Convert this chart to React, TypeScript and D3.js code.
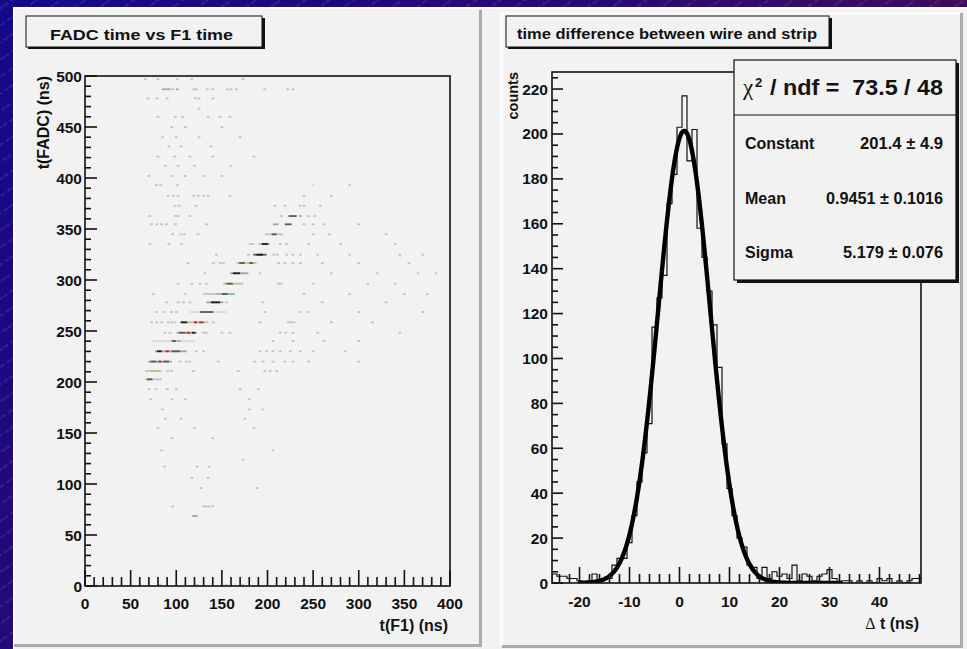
import React from 'react';
import * as d3 from 'd3';

const W = 967;
const H = 649;

// ---------- Right panel: histogram of time difference (bin width 1 ns, first bin centre -25) ----------
const histFirstCenter = -25;
const histCounts: number[] = [
  4, 3, 3, 2, 2, 1, 0, 1, 4, 1, 2, 2, 8, 11, 11, 18, 30, 45, 58, 71,
  114, 127, 137, 169, 182, 203, 217, 188, 202, 158, 145, 130, 115, 96, 62, 42, 30, 20, 16, 8,
  7, 2, 7, 2, 5, 3, 4, 2, 8, 1, 4, 3, 1, 3, 4, 6, 2, 0, 1, 1,
  0, 1, 0, 1, 0, 2, 1, 2, 0, 1, 0, 1, 2, 2,
];
const fitConstant = 201.4;
const fitMean = 0.9451;
const fitSigma = 5.179;
const fitRange: [number, number] = [-20.3, 32.5];
const statsLabels = ['Constant', 'Mean', 'Sigma'];
const statsValues = ['201.4 \u00b1 4.9', '0.9451 \u00b1 0.1016', '5.179 \u00b1 0.076'];
const statsValueWidths = [83, 117, 100];
const rightXTickLabels = [-20, -10, 0, 10, 20, 30, 40];
const rightYTickLabels = [0, 20, 40, 60, 80, 100, 120, 140, 160, 180, 200, 220];

// ---------- Left panel: 2D histogram FADC vs F1 ----------
const leftXTickLabels = [0, 50, 100, 150, 200, 250, 300, 350, 400];
const leftYTickLabels = [0, 50, 100, 150, 200, 250, 300, 350, 400, 450, 500];

// dense runs: [t(FADC), t(F1) start, t(F1) end, level]
const denseRuns: [number, number, number, number][] = [
  [362.7, 213.7, 217, 1], [362.7, 223, 232, 3],
  [354.6, 206, 212, 2], [354.6, 219, 226.5, 3],
  [344.8, 197, 217, 1], [344.8, 204.6, 210, 3],
  [335.3, 190, 202.7, 1], [335.3, 193.6, 200.9, 4],
  [324.8, 184.5, 199, 3], [324.8, 188, 195, 4],
  [316.7, 166, 188, 5], [316.7, 169, 175, 3], [316.7, 180, 184, 3],
  [306.6, 159, 179, 2], [306.6, 162, 170, 4],
  [296.4, 151.6, 173.5, 5], [296.4, 155, 162, 3],
  [286.3, 129.7, 164.4, 1], [286.3, 144, 164, 6], [286.3, 150, 156, 3],
  [278.1, 133, 151.6, 2], [278.1, 138, 148, 4],
  [268.6, 115, 155, 0], [268.6, 126, 140.6, 3],
  [258.5, 104, 135, 5], [258.5, 105, 112, 4], [258.5, 125, 130, 3], [258.5, 119.5, 123, 7],
  [248.3, 100.4, 122.4, 2], [248.3, 103, 110, 3], [248.3, 117, 121, 4], [248.3, 111.5, 115, 7],
  [240.2, 73, 120.5, 0], [240.2, 95, 100, 3], [240.2, 101, 105, 6],
  [230.1, 76.7, 111.4, 2], [230.1, 79, 84, 4], [230.1, 95, 104, 3], [230.1, 88.5, 92, 7],
  [220, 69.4, 95, 2], [220, 72, 78, 3], [220, 86, 92, 3], [220, 80.5, 84, 7],
  [210.8, 65.8, 84, 1], [210.8, 72, 82, 5],
  [202.6, 65.8, 84, 1], [202.6, 68, 74, 3],
];

// sparse cells: [t(F1), t(FADC), level]
const sparseCells: [number, number, number][] = [
  [66, 497, 1], [80, 497, 1], [101, 497, 1], [117, 497, 1], [173, 497, 1],
  [86, 487, 2], [89, 487, 2], [92, 487, 2], [96, 487, 1], [101, 487, 2], [119, 487, 1], [122, 487, 1],
  [134, 487, 1], [140, 487, 1], [156, 487, 1], [160, 487, 1], [166, 487, 1], [197, 487, 1], [222, 487, 1], [228, 487, 1],
  [69, 478, 1], [79, 478, 1], [90, 478, 1], [121, 478, 1], [125, 478, 1], [140, 478, 1],
  [125, 468, 1],
  [80, 460, 1], [99, 460, 1], [107, 460, 1], [135, 460, 1], [148, 460, 1], [159, 460, 1],
  [95, 450, 1], [110, 450, 1], [150, 450, 1],
  [85, 440, 1], [100, 440, 1], [125, 440, 1], [170, 440, 1],
  [92, 431, 1], [105, 431, 1], [138, 431, 1],
  [80, 421, 1], [98, 421, 1], [115, 421, 1], [140, 421, 1], [185, 421, 1],
  [88, 412, 1], [102, 412, 1], [120, 412, 1], [160, 412, 1],
  [70, 402, 1], [95, 402, 1], [110, 402, 1], [130, 402, 1], [150, 402, 1],
  [78.5, 393, 1], [83, 393, 1], [101.5, 393, 1], [250, 393, 0], [290, 393, 1],
  [91, 382.6, 1], [97, 382.6, 1], [102, 382.6, 1], [119, 382.6, 1], [124, 382.6, 1], [130, 382.6, 1],
  [135, 382.6, 1], [159, 382.6, 1], [240, 382.6, 1], [270, 382.6, 1],
  [98.6, 372.8, 1], [103.4, 372.8, 1], [121.6, 372.8, 1], [208, 372.8, 1], [219, 372.8, 1], [235.6, 372.8, 1],
  [240, 372.8, 1], [258, 372.8, 1],
  [71, 362.7, 1], [99, 362.7, 1], [102, 362.7, 1], [115, 362.7, 1], [236, 362.7, 2], [245, 362.7, 1], [252, 362.7, 1],
  [73, 354.6, 1], [78.5, 354.6, 1], [84, 354.6, 1], [89.5, 354.6, 1], [99, 354.6, 1], [133, 354.6, 1],
  [240, 354.6, 1], [250, 354.6, 1], [262, 354.6, 1], [300, 354.6, 1],
  [96, 344.8, 1], [105, 344.8, 1], [109, 344.8, 1], [124, 344.8, 1], [250, 344.8, 1], [268, 344.8, 1], [330, 344.8, 1],
  [71, 335.3, 1], [92, 335.3, 1], [106, 335.3, 1], [181, 335.3, 1], [184, 335.3, 1], [214, 335.3, 1], [221, 335.3, 1],
  [245, 335.3, 1], [280, 335.3, 1], [340, 335.3, 1],
  [144, 324.8, 1], [179, 324.8, 1], [207, 324.8, 1], [211, 324.8, 1], [221, 324.8, 1], [228, 324.8, 1], [236, 324.8, 1],
  [255, 324.8, 1], [290, 324.8, 1], [345, 324.8, 1], [370, 324.8, 1],
  [113, 316.7, 1], [140.6, 316.7, 1], [148, 316.7, 1], [151.6, 316.7, 1], [212, 316.7, 1], [219, 316.7, 1],
  [228, 316.7, 1], [236, 316.7, 1], [260, 316.7, 1], [300, 316.7, 1], [355, 316.7, 1],
  [131.5, 306.6, 1], [192, 306.6, 1], [270, 306.6, 1], [320, 306.6, 1], [365, 306.6, 1], [385, 306.6, 1],
  [102, 296.4, 1], [117, 296.4, 1], [126, 296.4, 1], [133, 296.4, 1], [212, 296.4, 1], [215, 296.4, 1],
  [250, 296.4, 1], [310, 296.4, 1], [340, 296.4, 1],
  [75, 286.3, 1], [109.6, 286.3, 1], [240, 286.3, 1], [290, 286.3, 1], [350, 286.3, 1], [375, 286.3, 1],
  [89.5, 278.1, 1], [102, 278.1, 1], [108, 278.1, 1], [115, 278.1, 1], [155, 278.1, 1], [195, 278.1, 1],
  [260, 278.1, 1], [330, 278.1, 1],
  [78.5, 268.6, 1], [86, 268.6, 1], [95, 268.6, 1], [100, 268.6, 1], [197, 268.6, 1], [236, 268.6, 1],
  [245, 268.6, 1], [300, 268.6, 1], [370, 268.6, 1],
  [73, 258.5, 1], [78.5, 258.5, 1], [84, 258.5, 1], [91, 258.5, 1], [95, 258.5, 1], [98.6, 258.5, 1],
  [140.6, 258.5, 1], [192, 258.5, 1], [223, 258.5, 1], [226, 258.5, 1], [229, 258.5, 1], [270, 258.5, 1], [315, 258.5, 1],
  [87.7, 248.3, 1], [93, 248.3, 1], [129.7, 248.3, 1], [133, 248.3, 1], [150, 248.3, 1], [159, 248.3, 1],
  [214, 248.3, 1], [220, 248.3, 1], [228, 248.3, 1], [255, 248.3, 1], [345, 248.3, 1],
  [206, 240.2, 1], [228, 240.2, 1], [262, 240.2, 1], [300, 240.2, 1],
  [122, 230.1, 1], [130, 230.1, 1], [192, 230.1, 1], [199, 230.1, 1], [206, 230.1, 1], [214, 230.1, 1],
  [225, 230.1, 1], [236, 230.1, 1], [250, 230.1, 1], [285, 230.1, 1],
  [104, 220, 1], [111, 220, 1], [115, 220, 1], [146, 220, 1], [186, 220, 1], [195, 220, 1], [206, 220, 1],
  [219, 220, 1], [228, 220, 1], [245, 220, 1], [300, 220, 1],
  [91, 210.8, 1], [95, 210.8, 1], [119, 210.8, 1], [168, 210.8, 1], [197, 210.8, 1], [203, 210.8, 1], [210, 210.8, 1],
  [70, 193, 1], [78, 193, 1], [90, 193, 1], [100, 193, 1], [170, 193, 1], [190, 193, 1],
  [72, 183, 1], [95, 183, 1], [110, 183, 1], [180, 183, 1],
  [85, 173, 1], [180, 173, 1], [195, 173, 1],
  [88, 164, 1], [105, 164, 1], [175, 164, 1],
  [80, 155, 1], [120, 155, 1], [185, 155, 1],
  [95, 145, 1], [140, 145, 1],
  [84, 133, 1], [206, 133, 1],
  [173, 124, 1],
  [87, 117, 1], [123, 117, 1], [136, 117, 1],
  [117, 106, 1], [135, 106, 1],
  [127, 96, 1], [188.5, 96, 1],
  [96, 78, 1], [130, 78, 1], [133, 78, 1], [136, 78, 1], [140, 78, 1],
  [119, 68.6, 2], [122, 68.6, 2],
  [82, 1, 1], [123, 1, 1], [155, 1, 1], [173, 1, 1],
];

const levelColors = ['#dadada', '#c2c2c2', '#a2a2a2', '#5a5a5a', '#1e1e1e', '#c8bb8c', '#86c196', '#ee1010'];

const FONT = '"Liberation Sans", Arial, Helvetica, sans-serif';
const SERIF = '"Liberation Serif", "DejaVu Serif", serif';

export default function App() {
  // scales
  const xL = d3.scaleLinear().domain([0, 400]).range([85, 450]);
  const yL = d3.scaleLinear().domain([0, 500]).range([586, 76]);
  const xR = d3.scaleLinear().domain([-25.5, 48.3]).range([552, 921]);
  const yR = d3.scaleLinear().domain([0, 227.6]).range([583, 72]);

  // histogram step path
  const binW = 1;
  let histPath = `M${xR(histFirstCenter - binW / 2)},${yR(0)}`;
  histCounts.forEach((v, i) => {
    const c = histFirstCenter + i * binW;
    histPath += `V${yR(v)}H${xR(c + binW / 2)}`;
  });
  histPath += `V${yR(0)}`;

  const gauss = (x: number) => fitConstant * Math.exp(-0.5 * ((x - fitMean) / fitSigma) ** 2);
  const fitPts = d3.range(fitRange[0], fitRange[1] + 0.001, 0.1).map((x) => [x, gauss(x)] as [number, number]);
  const fitLine = d3.line<[number, number]>().x((d) => xR(d[0])).y((d) => yR(d[1]))(fitPts) || '';

  // ticks
  const lyTicks = d3.range(0, 501, 10);
  const lxTicks = d3.range(0, 401, 10);
  const rxTicks = d3.range(-24, 49, 2);
  const ryTicks = d3.range(0, 226, 5);

  const cellW = xL(3) - xL(0);
  const cellH = 1.8;

  const tickStroke = { stroke: '#111', strokeWidth: 1.6 };

  return (
    <svg
      width={W}
      height={H}
      viewBox={`0 0 ${W} ${H}`}
      style={{ position: 'absolute', left: 0, top: 0, display: 'block' }}
      xmlns="http://www.w3.org/2000/svg"
    >
      <defs>
        <linearGradient id="bgGrad" x1="0" y1="0" x2={W} y2={H} gradientUnits="userSpaceOnUse">
          <stop offset="0" stopColor="#14098a" />
          <stop offset="0.5" stopColor="#2e0a6e" />
          <stop offset="1" stopColor="#5c0a3c" />
        </linearGradient>
        <pattern id="stripes" width="14" height="14" patternUnits="userSpaceOnUse" patternTransform="rotate(-35)">
          <line x1="0" y1="7" x2="14" y2="7" stroke="rgba(170,170,255,0.35)" strokeWidth="0.8" strokeDasharray="5 3" />
        </pattern>
        <clipPath id="clipL">
          <rect x={85} y={76} width={365} height={510} />
        </clipPath>
        <clipPath id="clipR">
          <rect x={552} y={72} width={369} height={511} />
        </clipPath>
      </defs>

      {/* outer background */}
      <rect x={0} y={0} width={W} height={H} fill="url(#bgGrad)" />
      <rect x={0} y={0} width={W} height={H} fill="url(#stripes)" />

      {/* canvas */}
      <rect x={13} y={7} width={W - 13} height={H - 7} fill="#f2f2f2" />
      <line x1={13} y1={8} x2={W} y2={8} stroke="#ffffff" strokeWidth={2} />
      <line x1={14} y1={7} x2={14} y2={H} stroke="#ffffff" strokeWidth={2} />

      {/* left pad borders */}
      <line x1={480.5} y1={10} x2={480.5} y2={647} stroke="#ababab" strokeWidth={3} />
      <line x1={14} y1={645.5} x2={482} y2={645.5} stroke="#ababab" strokeWidth={3} />
      {/* right pad borders */}
      <line x1={501.5} y1={13} x2={501.5} y2={646} stroke="#ffffff" strokeWidth={2} />
      <line x1={501} y1={13.5} x2={961} y2={13.5} stroke="#ffffff" strokeWidth={1.5} />
      <line x1={961.5} y1={13} x2={961.5} y2={648} stroke="#ababab" strokeWidth={3} />
      <line x1={502} y1={646.5} x2={963} y2={646.5} stroke="#ababab" strokeWidth={3} />

      {/* ================= LEFT PANEL ================= */}
      <g clipPath="url(#clipL)">
        {denseRuns.map(([fadc, a, b, lvl], i) => (
          <rect
            key={`r${i}`}
            x={xL(a)}
            y={yL(fadc) - cellH / 2}
            width={Math.max(xL(b) - xL(a), cellW)}
            height={cellH}
            fill={levelColors[lvl]}
          />
        ))}
        {sparseCells.map(([f1, fadc, lvl], i) => (
          <rect
            key={`s${i}`}
            x={xL(f1) - cellW / 2}
            y={yL(fadc) - cellH / 2}
            width={cellW}
            height={cellH}
            fill={levelColors[lvl]}
          />
        ))}
      </g>

      {/* frame */}
      <rect x={85} y={76} width={365} height={510} fill="none" stroke="#111" strokeWidth={1.6} />
      {lyTicks.map((v) => (
        <line key={`ly${v}`} x1={xL(0)} x2={xL(0) + (v % 50 === 0 ? 12 : 6)} y1={yL(v)} y2={yL(v)} {...tickStroke} />
      ))}
      {lxTicks.map((v) => (
        <line key={`lx${v}`} x1={xL(v)} x2={xL(v)} y1={yL(0)} y2={yL(0) - (v % 50 === 0 ? 16 : 9)} {...tickStroke} />
      ))}
      {leftYTickLabels.map((v) => (
        <text key={`lyl${v}`} x={82} y={yL(v) + 5.5} textAnchor="end" fontFamily={FONT} fontWeight="bold" fontSize={15.5} fill="#111">
          {v}
        </text>
      ))}
      {leftXTickLabels.map((v) => (
        <text key={`lxl${v}`} x={xL(v)} y={608.5} textAnchor="middle" fontFamily={FONT} fontWeight="bold" fontSize={15.5} fill="#111">
          {v}
        </text>
      ))}
      <text x={448} y={630.5} textAnchor="end" fontFamily={FONT} fontWeight="bold" fontSize={16} fill="#111">
        t(F1) (ns)
      </text>
      <text
        transform={`translate(48.5,76) rotate(-90)`}
        textAnchor="end"
        fontFamily={FONT}
        fontWeight="bold"
        fontSize={16}
        fill="#111"
      >
        t(FADC) (ns)
      </text>

      {/* left title box */}
      <rect x={28} y={18} width={237} height={31} fill="#111" />
      <rect x={26} y={16} width={236} height={31} fill="#f2f2f2" stroke="#111" strokeWidth={1} />
      <text x={141.5} y={40} textAnchor="middle" fontFamily={FONT} fontWeight="bold" fontSize={15.5} fill="#111" textLength={183} lengthAdjust="spacingAndGlyphs">
        FADC time vs F1 time
      </text>

      {/* ================= RIGHT PANEL ================= */}
      <g clipPath="url(#clipR)">
        <path d={histPath} fill="none" stroke="#111" strokeWidth={1.2} />
        <path d={fitLine} fill="none" stroke="#000" strokeWidth={4.4} strokeLinejoin="round" />
      </g>
      <rect x={552} y={72} width={369} height={511} fill="none" stroke="#111" strokeWidth={1.6} />
      {ryTicks.map((v) => (
        <line key={`ry${v}`} x1={xR.range()[0]} x2={xR.range()[0] + (v % 20 === 0 ? 11 : 6)} y1={yR(v)} y2={yR(v)} {...tickStroke} />
      ))}
      {rxTicks.map((v) => (
        <line key={`rx${v}`} x1={xR(v)} x2={xR(v)} y1={yR(0)} y2={yR(0) - (v % 10 === 0 ? 16 : 9)} {...tickStroke} />
      ))}
      {rightYTickLabels.map((v) => (
        <text key={`ryl${v}`} x={548} y={yR(v) + 5.5} textAnchor="end" fontFamily={FONT} fontWeight="bold" fontSize={15.5} fill="#111">
          {v}
        </text>
      ))}
      {rightXTickLabels.map((v) => (
        <text key={`rxl${v}`} x={xR(v)} y={606.5} textAnchor="middle" fontFamily={FONT} fontWeight="bold" fontSize={15.5} fill="#111">
          {v}
        </text>
      ))}
      <text x={919} y={629} textAnchor="end" fill="#111" fontSize={16}>
        <tspan fontFamily={SERIF}>{'\u0394'}</tspan>
        <tspan fontFamily={FONT} fontWeight="bold">{' t (ns)'}</tspan>
      </text>
      <text
        transform={`translate(518,72) rotate(-90)`}
        textAnchor="end"
        fontFamily={FONT}
        fontWeight="bold"
        fontSize={14.5}
        fill="#111"
      >
        counts
      </text>

      {/* right title box */}
      <rect x={508} y={18} width={324} height={31} fill="#111" />
      <rect x={506} y={16} width={323} height={31} fill="#f2f2f2" stroke="#111" strokeWidth={1} />
      <text x={517} y={39} fontFamily={FONT} fontWeight="bold" fontSize={15} fill="#111" textLength={300} lengthAdjust="spacingAndGlyphs">
        time difference between wire and strip
      </text>

      {/* stats box */}
      <rect x={737} y={63} width={222} height={220} fill="#111" />
      <rect x={734} y={60} width={222} height={220} fill="#f2f2f2" stroke="#111" strokeWidth={1.2} />
      <line x1={734} y1={115} x2={956} y2={115} stroke="#111" strokeWidth={1.2} />
      <text x={743} y={95} fontFamily={SERIF} fontSize={23} fill="#111">
        {'\u03c7'}
      </text>
      <text x={755} y={87} fontFamily={FONT} fontWeight="bold" fontSize={13} fill="#111">
        2
      </text>
      <text
        x={770}
        y={95}
        fontFamily={FONT}
        fontWeight="bold"
        fontSize={22}
        fill="#111"
        textLength={173}
        lengthAdjust="spacingAndGlyphs"
        style={{ whiteSpace: 'pre' }}
      >
        {'/ ndf =  73.5 / 48'}
      </text>
      {statsLabels.map((lab, i) => (
        <g key={lab}>
          <text x={745} y={149 + i * 54.5} fontFamily={FONT} fontWeight="bold" fontSize={16} fill="#111">
            {lab}
          </text>
          <text
            x={943}
            y={149 + i * 54.5}
            textAnchor="end"
            fontFamily={FONT}
            fontWeight="bold"
            fontSize={16}
            fill="#111"
            textLength={statsValueWidths[i]}
            lengthAdjust="spacingAndGlyphs"
          >
            {statsValues[i]}
          </text>
        </g>
      ))}
    </svg>
  );
}
